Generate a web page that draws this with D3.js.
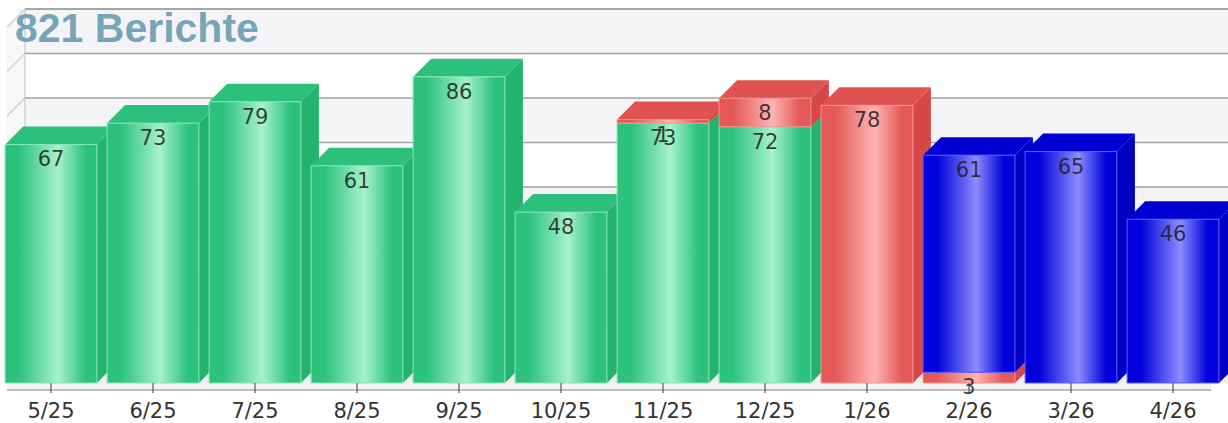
<!DOCTYPE html>
<html>
<head>
<meta charset="utf-8">
<script src="https://cdn.jsdelivr.net/npm/d3@7"></script>
<style>
  html, body { margin: 0; padding: 0; background: #ffffff; }
  svg { display: block; }
</style>
</head>
<body>
<div id="chart"></div>
<script>
// Monthly report counts, stacked by status
const categories = ["5/25", "6/25", "7/25", "8/25", "9/25", "10/25", "11/25", "12/25", "1/26", "2/26", "3/26", "4/26"];
const greenValues = [67, 73, 79, 61, 86, 48, 73, 72, 0, 0, 0, 0];
const redValues   = [0, 0, 0, 0, 0, 0, 1, 8, 78, 3, 0, 0];
const blueValues  = [0, 0, 0, 0, 0, 0, 0, 0, 0, 61, 65, 46];
const gridTicks = [12.5, 25, 37.5, 50, 62.5, 75, 87.5, 100];
const titleText = "821 Berichte";

const W = 1228, H = 423;
const depthX = 18, depthY = 18;
const baseY = 383;

const seriesKeys = ["green", "red", "blue"];
const palette = {
  green: { edge: "#2cc27c", mid: "#a6f2cd", top: "#2cc07a", side: "#24b36f", line: "#86e6b8" },
  red:   { edge: "#e45858", mid: "#ffb4b4", top: "#e05151", side: "#d64848", line: "#f59090" },
  blue:  { edge: "#0000dc", mid: "#8c8cff", top: "#0000d4", side: "#0000c2", line: "#5a5aff" }
};

const rows = categories.map((c, i) => ({
  cat: c, green: greenValues[i], red: redValues[i], blue: blueValues[i]
}));

const x = d3.scaleBand().domain(categories).range([0, 1224]).paddingInner(0.1).paddingOuter(0.05);
const y = d3.scaleLinear().domain([0, 100]).range([baseY, baseY - 356]);

const svg = d3.select("#chart").append("svg").attr("width", W).attr("height", H);

// gradients for the front faces
const defs = svg.append("defs");
seriesKeys.forEach(k => {
  const g = defs.append("linearGradient").attr("id", "grad-" + k)
    .attr("x1", "0%").attr("x2", "100%").attr("y1", "0%").attr("y2", "0%");
  g.append("stop").attr("offset", "0%").attr("stop-color", palette[k].edge);
  g.append("stop").attr("offset", "15%").attr("stop-color", palette[k].edge);
  g.append("stop").attr("offset", "58%").attr("stop-color", palette[k].mid);
  g.append("stop").attr("offset", "88%").attr("stop-color", palette[k].edge);
  g.append("stop").attr("offset", "100%").attr("stop-color", palette[k].edge);
});

// back wall bands
const wall = svg.append("g");
const bandEdges = [0].concat(gridTicks);
for (let i = 0; i < bandEdges.length - 1; i++) {
  const lo = bandEdges[i], hi = bandEdges[i + 1];
  wall.append("rect")
    .attr("x", depthX).attr("width", W - depthX)
    .attr("y", y(hi) - depthY).attr("height", y(lo) - y(hi))
    .attr("fill", (bandEdges.length - 2 - i) % 2 === 0 ? "#f4f4f6" : "#ffffff");
}

// left wall
const x0 = 7;
wall.append("path")
  .attr("d", `M${x0},${baseY} L${x0 + depthX},${baseY - depthY} L${x0 + depthX},${y(100) - depthY} L${x0},${y(100)} Z`)
  .attr("fill", "#f7f7f7");
wall.append("line")
  .attr("x1", x0 + depthX).attr("x2", x0 + depthX)
  .attr("y1", y(100) - depthY).attr("y2", baseY - depthY)
  .attr("stroke", "#c9c9c9").attr("stroke-width", 1.2);

// gridlines
gridTicks.forEach(t => {
  const gy = y(t) - depthY;
  wall.append("line")
    .attr("x1", x0 + depthX).attr("x2", W).attr("y1", gy).attr("y2", gy)
    .attr("stroke", t === 100 ? "#8a8a8a" : "#a2a2a2").attr("stroke-width", 1.6);
  wall.append("line")
    .attr("x1", x0).attr("x2", x0 + depthX).attr("y1", gy + depthY).attr("y2", gy)
    .attr("stroke", "#cfcfcf").attr("stroke-width", 1.2);
});

// floor
wall.append("path")
  .attr("d", `M${x0},${baseY} L${x0 + depthX},${baseY - depthY} L${W},${baseY - depthY} L${W},${baseY} Z`)
  .attr("fill", "#eeeeee");
wall.append("rect")
  .attr("x", x0).attr("y", baseY).attr("width", 1204).attr("height", 7)
  .attr("fill", "#f3f5f3");
wall.append("line")
  .attr("x1", x0).attr("x2", x0 + 1204).attr("y1", baseY + 7).attr("y2", baseY + 7)
  .attr("stroke", "#a8a8a8").attr("stroke-width", 1.5);

// title
svg.append("text")
  .attr("x", 15).attr("y", 42)
  .attr("font-family", "'Liberation Sans', Arial, sans-serif")
  .attr("font-weight", "bold").attr("font-size", 41)
  .attr("fill", "#6fa0b4").attr("fill-opacity", 0.95)
  .text(titleText);

// stacked 3D bars
const stacked = d3.stack().keys(seriesKeys)(rows);
const segments = [];
rows.forEach((r, i) => {
  stacked.forEach(layer => {
    const d = layer[i];
    if (d[1] - d[0] > 0) segments.push({ key: layer.key, cat: r.cat, lo: d[0], hi: d[1], value: d[1] - d[0] });
  });
});

const bars = svg.append("g");
segments.forEach(s => {
  const bx0 = x(s.cat), bx1 = x(s.cat) + x.bandwidth();
  const yt = y(s.hi), yb = y(s.lo);
  const p = palette[s.key];
  const g = bars.append("g");
  g.append("path")
    .attr("d", `M${bx1},${yt} L${bx1 + depthX},${yt - depthY} L${bx1 + depthX},${yb - depthY} L${bx1},${yb} Z`)
    .attr("fill", p.side);
  g.append("path")
    .attr("d", `M${bx0},${yt} L${bx1},${yt} L${bx1 + depthX},${yt - depthY} L${bx0 + depthX},${yt - depthY} Z`)
    .attr("fill", p.top);
  g.append("rect")
    .attr("x", bx0).attr("y", yt).attr("width", bx1 - bx0).attr("height", yb - yt)
    .attr("fill", `url(#grad-${s.key})`)
    .attr("stroke", p.line).attr("stroke-width", 1);
});

// x axis ticks and labels
const axis = svg.append("g");
categories.forEach(c => {
  const cx = x(c) + x.bandwidth() / 2;
  axis.append("line")
    .attr("x1", cx).attr("x2", cx).attr("y1", baseY).attr("y2", baseY + 10)
    .attr("stroke", "#555").attr("stroke-width", 1.2);
  axis.append("text")
    .attr("x", cx).attr("y", 418)
    .attr("text-anchor", "middle")
    .attr("font-family", "'DejaVu Sans', Verdana, sans-serif")
    .attr("font-size", 21).attr("fill", "#333")
    .text(c);
});

// value labels
const labels = svg.append("g");
segments.forEach(s => {
  labels.append("text")
    .attr("x", x(s.cat) + x.bandwidth() / 2)
    .attr("y", y(s.hi) + 22)
    .attr("text-anchor", "middle")
    .attr("font-family", "'DejaVu Sans', Verdana, sans-serif")
    .attr("font-size", 21).attr("fill", "#1e1e1e").attr("fill-opacity", 0.85)
    .text(s.value);
});
</script>
</body>
</html>
